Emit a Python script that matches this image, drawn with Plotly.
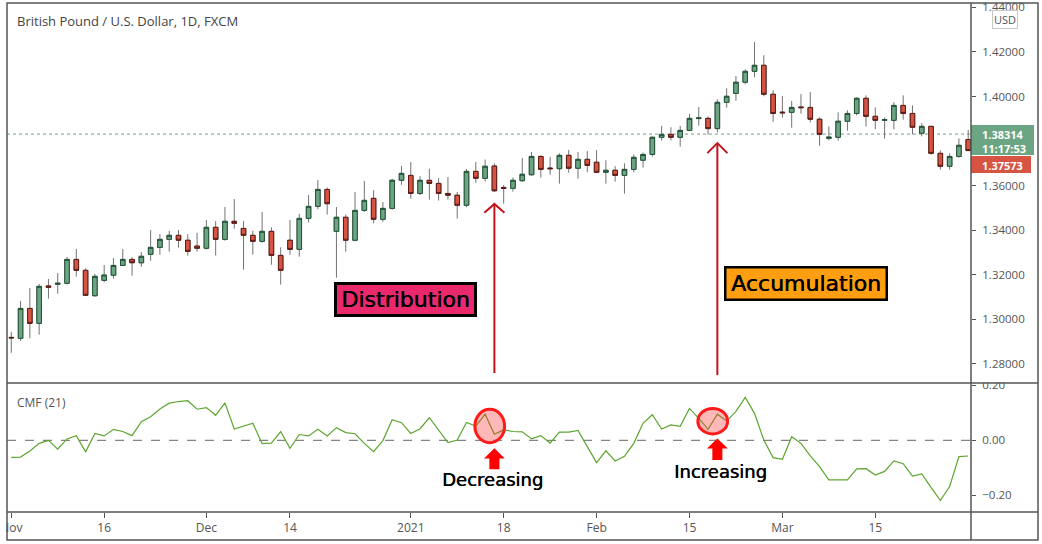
import plotly.graph_objects as go

# ---------------- data ----------------
opens = [1.2919, 1.2915, 1.3049, 1.2982, 1.3150, 1.3157, 1.3162, 1.3269, 1.3220, 1.3106,
         1.3175, 1.3198, 1.3242, 1.3269, 1.3254, 1.3292, 1.3323, 1.3359, 1.3377, 1.3355,
         1.3329, 1.3319, 1.3413, 1.3359, 1.3440, 1.3408, 1.3377, 1.3350, 1.3395, 1.3287,
         1.3355, 1.3314, 1.3453, 1.3507, 1.3583, 1.3395, 1.3458, 1.3355, 1.3489, 1.3543,
         1.3449, 1.3498, 1.3624, 1.3646, 1.3565, 1.3624, 1.3610, 1.3565, 1.3557, 1.3512,
         1.3664, 1.3633, 1.3688, 1.3592, 1.3588, 1.3622, 1.3649, 1.3731, 1.3679, 1.3676,
         1.3736, 1.3678, 1.3718, 1.3705, 1.3660, 1.3669, 1.3646, 1.3673, 1.3714, 1.3740,
         1.3817, 1.3830, 1.3817, 1.3848, 1.3901, 1.3902, 1.3856, 1.3974, 1.4014, 1.4064,
         1.4113, 1.4140, 1.4010, 1.3930, 1.3929, 1.3953, 1.3951, 1.3898, 1.3812, 1.3817,
         1.3889, 1.3924, 1.3992, 1.3911, 1.3893, 1.3893, 1.3960, 1.3924, 1.3835, 1.3866,
         1.3745, 1.3687, 1.3731, 1.3807]
highs = [1.2943, 1.3082, 1.3141, 1.3159, 1.3181, 1.3208, 1.3280, 1.3316, 1.3229, 1.3204,
         1.3244, 1.3275, 1.3316, 1.3280, 1.3302, 1.3401, 1.3383, 1.3397, 1.3401, 1.3382,
         1.3388, 1.3446, 1.3441, 1.3504, 1.3540, 1.3441, 1.3397, 1.3482, 1.3413, 1.3323,
         1.3446, 1.3473, 1.3558, 1.3625, 1.3592, 1.3504, 1.3471, 1.3571, 1.3621, 1.3580,
         1.3527, 1.3631, 1.3688, 1.3706, 1.3643, 1.3676, 1.3634, 1.3639, 1.3571, 1.3675,
         1.3706, 1.3717, 1.3700, 1.3603, 1.3637, 1.3724, 1.3751, 1.3736, 1.3729, 1.3745,
         1.3760, 1.3751, 1.3755, 1.3760, 1.3714, 1.3687, 1.3700, 1.3740, 1.3749, 1.3821,
         1.3868, 1.3862, 1.3868, 1.3922, 1.3953, 1.3911, 1.3987, 1.4037, 1.4092, 1.4122,
         1.4245, 1.4185, 1.4028, 1.4002, 1.3980, 1.4011, 1.4020, 1.3906, 1.3866, 1.3929,
         1.3938, 1.3996, 1.4005, 1.3951, 1.3906, 1.3975, 1.4005, 1.3960, 1.3880, 1.3868,
         1.3758, 1.3745, 1.3812, 1.3850]
lows = [1.2850, 1.2904, 1.2915, 1.2931, 1.3093, 1.3115, 1.3156, 1.3192, 1.3104, 1.3102,
        1.3166, 1.3183, 1.3239, 1.3196, 1.3236, 1.3263, 1.3290, 1.3304, 1.3322, 1.3286,
        1.3304, 1.3313, 1.3286, 1.3353, 1.3407, 1.3223, 1.3290, 1.3344, 1.3245, 1.3156,
        1.3290, 1.3281, 1.3435, 1.3494, 1.3470, 1.3187, 1.3304, 1.3350, 1.3482, 1.3431,
        1.3438, 1.3492, 1.3604, 1.3542, 1.3557, 1.3537, 1.3533, 1.3537, 1.3452, 1.3503,
        1.3613, 1.3619, 1.3571, 1.3519, 1.3573, 1.3619, 1.3645, 1.3636, 1.3649, 1.3609,
        1.3658, 1.3631, 1.3660, 1.3657, 1.3609, 1.3618, 1.3564, 1.3660, 1.3681, 1.3730,
        1.3802, 1.3803, 1.3775, 1.3845, 1.3869, 1.3829, 1.3839, 1.3950, 1.3981, 1.4055,
        1.4086, 1.4001, 1.3887, 1.3905, 1.3860, 1.3923, 1.3884, 1.3779, 1.3803, 1.3802,
        1.3847, 1.3915, 1.3865, 1.3853, 1.3811, 1.3853, 1.3896, 1.3830, 1.3821, 1.3739,
        1.3672, 1.3672, 1.3725, 1.3757]
closes = [1.2917, 1.3049, 1.2982, 1.3148, 1.3144, 1.3162, 1.3269, 1.3220, 1.3108, 1.3193,
          1.3199, 1.3242, 1.3269, 1.3254, 1.3283, 1.3323, 1.3359, 1.3377, 1.3355, 1.3305,
          1.3319, 1.3413, 1.3359, 1.3440, 1.3431, 1.3377, 1.3350, 1.3395, 1.3287, 1.3220,
          1.3314, 1.3453, 1.3507, 1.3583, 1.3519, 1.3458, 1.3355, 1.3489, 1.3534, 1.3449,
          1.3498, 1.3624, 1.3655, 1.3565, 1.3624, 1.3610, 1.3565, 1.3557, 1.3512, 1.3664,
          1.3633, 1.3687, 1.3577, 1.3588, 1.3624, 1.3651, 1.3731, 1.3673, 1.3676, 1.3736,
          1.3678, 1.3718, 1.3691, 1.3660, 1.3669, 1.3646, 1.3673, 1.3727, 1.3740, 1.3817,
          1.3830, 1.3817, 1.3848, 1.3902, 1.3904, 1.3856, 1.3974, 1.4001, 1.4064, 1.4113,
          1.4140, 1.4010, 1.3924, 1.3927, 1.3951, 1.3950, 1.3898, 1.3830, 1.3818, 1.3889,
          1.3924, 1.3992, 1.3911, 1.3893, 1.3896, 1.3960, 1.3924, 1.3862, 1.3866, 1.3745,
          1.3687, 1.3731, 1.3781, 1.37573]
cmf_values = [-0.062, -0.061, -0.039, -0.011, 0.000, -0.032, 0.005, 0.017, -0.042, 0.025,
              0.016, 0.040, 0.032, 0.017, 0.068, 0.086, 0.114, 0.135, 0.141, 0.144,
              0.113, 0.119, 0.091, 0.136, 0.041, 0.052, 0.062, -0.012, -0.010, 0.032,
              -0.029, 0.021, 0.016, 0.040, 0.016, 0.046, 0.028, 0.024, -0.011, -0.041,
              -0.001, 0.075, 0.064, 0.025, 0.042, 0.082, 0.038, -0.008, 0.001, 0.065,
              0.052, 0.095, 0.022, 0.038, 0.032, 0.031, 0.005, 0.017, -0.010, 0.030,
              0.030, 0.036, -0.023, -0.081, -0.038, -0.075, -0.058, -0.011, 0.062, 0.093,
              0.041, 0.056, 0.051, 0.116, 0.080, 0.040, 0.095, 0.070, 0.105, 0.156,
              0.098, 0.001, -0.063, -0.069, 0.013, -0.011, -0.057, -0.096, -0.144, -0.144,
              -0.144, -0.104, -0.103, -0.126, -0.113, -0.075, -0.085, -0.130, -0.122, -0.171,
              -0.219, -0.168, -0.059, -0.057]

date_tick_bars = [0, 10, 21, 30, 43, 53, 63, 73, 83, 93]
date_tick_labels = ["Nov", "16", "Dec", "14", "2021", "18", "Feb", "15", "Mar", "15"]
price_ticks = [1.28, 1.30, 1.32, 1.34, 1.36, 1.38, 1.40, 1.42, 1.44]
cmf_ticks = [-0.20, 0.00, 0.20]
cmf_tick_labels = ["\u22120.20", "0.00", "0.20"]
last_price = 1.38314
last_close_label = "1.37573"
countdown = "11:17:53"
title_text = "British Pound / U.S. Dollar, 1D, FXCM"
indicator_label = "CMF (21)"
distribution_bar = 52
accumulation_bar = 76

bars = list(range(len(opens)))
body_hi = [max(o, c) for o, c in zip(opens, closes)]
body_lo = [min(o, c) for o, c in zip(opens, closes)]

# ---------------- styling / layout ----------------
W, H = 1042, 544
ML, MR, MT, MB = 7, 71, 3, 32
PW, PH = W - ML - MR, H - MT - MB


def px(x):
    return (x - ML) / PW


def py(y):
    return (H - MB - y) / PH


split = py(383)
UP, UP_B = "#6BA583", "#225437"
DN, DN_B = "#D75442", "#5B1A13"
WICK = "#737375"
AX = "#555555"
FONT = "Open Sans"
BIG = "DejaVu Sans"
BOLDEN = "0.5px 0 0 black"

fig = go.Figure()
# wicks
fig.add_trace(go.Candlestick(
    x=bars, open=opens, high=highs, low=lows, close=closes,
    increasing=dict(line=dict(color=WICK, width=1), fillcolor=WICK),
    decreasing=dict(line=dict(color=WICK, width=1), fillcolor=WICK),
    whiskerwidth=0, hoverinfo="skip", showlegend=False, xaxis="x", yaxis="y"))
# bodies
fig.add_trace(go.Candlestick(
    x=bars, open=opens, high=body_hi, low=body_lo, close=closes,
    increasing=dict(line=dict(color=UP_B, width=1), fillcolor=UP),
    decreasing=dict(line=dict(color=DN_B, width=1), fillcolor=DN),
    whiskerwidth=0, showlegend=False, xaxis="x", yaxis="y"))
# CMF
fig.add_trace(go.Scatter(x=bars, y=cmf_values, mode="lines",
                         line=dict(color="#5DA52F", width=1.2),
                         showlegend=False, xaxis="x2", yaxis="y2"))

shapes = []
# dotted last-price line
shapes.append(dict(type="line", xref="paper", yref="y", x0=0, x1=1, y0=last_price, y1=last_price,
                   line=dict(color=UP, width=1, dash="dot"), layer="below"))
# zero dashed line in CMF
shapes.append(dict(type="line", xref="paper", yref="y2", x0=0, x1=1, y0=0, y1=0,
                   line=dict(color="#666666", width=1, dash="dash"), layer="below"))

# red vertical arrows in price panel
ARROW = "#C1151C"
for bar, y_tip, y_bot, dy in [(distribution_bar, 1.3518, 1.2759, 0.0040),
                              (accumulation_bar, 1.3791, 1.2750, 0.0045)]:
    shapes.append(dict(type="line", xref="x", yref="y", x0=bar, x1=bar, y0=y_bot, y1=y_tip,
                       line=dict(color=ARROW, width=2)))
    shapes.append(dict(type="path", xref="x", yref="y",
                       path=f"M {bar-1.08},{y_tip-dy} L {bar},{y_tip} L {bar+1.08},{y_tip-dy}",
                       line=dict(color=ARROW, width=2)))

# circles in CMF panel
for x0, x1, y0, y1 in [(49.9, 53.1, -0.009, 0.113), (73.9, 77.1, 0.023, 0.116)]:
    shapes.append(dict(type="circle", xref="x2", yref="y2", x0=x0, x1=x1, y0=y0, y1=y1,
                       fillcolor="rgba(255,40,40,0.33)", line=dict(color="#FF1A1A", width=3)))

# block arrows in CMF panel
for bar, tip, base, bot in [(distribution_bar, -0.029, -0.066, -0.1055),
                            (accumulation_bar, 0.007, -0.030, -0.072)]:
    hw, sw = 1.12, 0.54
    path = (f"M {bar},{tip} L {bar+hw},{base} L {bar+sw},{base} L {bar+sw},{bot} "
            f"L {bar-sw},{bot} L {bar-sw},{base} L {bar-hw},{base} Z")
    shapes.append(dict(type="path", xref="x2", yref="y2", path=path,
                       fillcolor="#FF0000", line=dict(color="#FF0000", width=0)))

# masks that clip axis labels at the frame edges (as in the reference)
MASK = dict(type="rect", xref="paper", yref="paper", fillcolor="white", line=dict(width=0))
shapes.append(dict(MASK, x0=px(0), x1=px(6.3), y0=py(544), y1=py(512)))
shapes.append(dict(MASK, x0=px(0), x1=px(1042), y0=py(2.3), y1=py(0)))
shapes.append(dict(MASK, x0=px(972), x1=px(1037), y0=py(382.4), y1=py(373)))

# price tags
shapes.append(dict(type="rect", xref="paper", yref="paper", x0=px(971), x1=px(1034),
                   y0=py(155), y1=py(125), fillcolor=UP, line=dict(width=0)))
shapes.append(dict(type="rect", xref="paper", yref="paper", x0=px(971), x1=px(1031),
                   y0=py(173), y1=py(156), fillcolor=DN, line=dict(width=0)))

# frame
FR = dict(color=AX, width=1.5)
shapes.append(dict(type="rect", xref="paper", yref="paper", x0=px(7), x1=px(1038),
                   y0=py(540), y1=py(3), line=FR))
shapes.append(dict(type="line", xref="paper", yref="paper", x0=px(7), x1=px(1038),
                   y0=py(383), y1=py(383), line=FR))
shapes.append(dict(type="line", xref="paper", yref="paper", x0=px(7), x1=px(1038),
                   y0=py(512), y1=py(512), line=FR))
shapes.append(dict(type="line", xref="paper", yref="paper", x0=px(971), x1=px(971),
                   y0=py(540), y1=py(3), line=FR))

PAPER_TXT = dict(xref="paper", yref="paper", showarrow=False, xanchor="center", yanchor="middle")
TAG_FONT = dict(family=FONT, size=11, color="white")
annotations = [
    dict(PAPER_TXT, text=title_text, x=px(15), y=py(21), xanchor="left",
         font=dict(family=FONT, size=13, color="#444444")),
    dict(PAPER_TXT, text=indicator_label, x=px(15), y=py(402), xanchor="left",
         font=dict(family=FONT, size=12, color="#555555")),
    dict(PAPER_TXT, text="USD", x=px(1005), y=py(19.5),
         font=dict(family=FONT, size=11, color="#555555"), bordercolor="#C8C8C8",
         borderwidth=1, borderpad=1),
    dict(PAPER_TXT, text="<b>%.5f</b>" % last_price, x=px(1002.5), y=py(134.5),
         font=TAG_FONT, height=12),
    dict(PAPER_TXT, text="<b>%s</b>" % countdown, x=px(1003.5), y=py(147.5),
         font=TAG_FONT, height=12),
    dict(PAPER_TXT, text="<b>%s</b>" % last_close_label, x=px(1002.5), y=py(164.5),
         font=TAG_FONT, height=12),
    dict(text="Distribution", xref="x", yref="y", x=42.4, y=1.3089, showarrow=False,
         font=dict(family=BIG, size=22, color="black", shadow=BOLDEN), bgcolor="#E9296C",
         bordercolor="black", borderwidth=3, borderpad=0, width=137, height=29),
    dict(text="Accumulation", xref="x", yref="y", x=85.55, y=1.3159, showarrow=False,
         font=dict(family=BIG, size=22, color="black", shadow=BOLDEN), bgcolor="#FF9E10",
         bordercolor="black", borderwidth=2.5, borderpad=0, width=159, height=30),
    dict(text="Decreasing", xref="x2", yref="y2", x=51.85, y=-0.144, showarrow=False,
         font=dict(family=BIG, size=18, color="black", shadow=BOLDEN)),
    dict(text="Increasing", xref="x2", yref="y2", x=76.3, y=-0.112, showarrow=False,
         font=dict(family=BIG, size=18, color="black", shadow=BOLDEN)),
]

xr = [-0.46, 103.3]
fig.update_layout(
    width=W, height=H, margin=dict(l=ML, r=MR, t=MT, b=MB, autoexpand=False),
    paper_bgcolor="white", plot_bgcolor="white", showlegend=False,
    font=dict(family=FONT, size=12, color=AX),
    boxgap=0.3,
    xaxis=dict(domain=[0, 1], anchor="y", range=xr, showticklabels=False, ticks="",
               automargin=False, showgrid=False, zeroline=False,
               rangeslider=dict(visible=False)),
    xaxis2=dict(domain=[0, 1], anchor="y2", range=xr, matches="x", tickmode="array",
                tickvals=date_tick_bars, ticktext=date_tick_labels, ticks="outside", ticklen=5,
                tickcolor=AX, tickfont=dict(family=FONT, size=12, color=AX),
                ticklabeloverflow="allow",
                automargin=False, showgrid=False, zeroline=False),
    yaxis=dict(domain=[split, 1], anchor="x", side="right", range=[1.27144, 1.44196],
               tickmode="array", tickvals=price_ticks, ticktext=["%.5f" % v for v in price_ticks],
               ticks="outside", ticklen=4, tickcolor=AX, ticklabelstandoff=4,
               tickfont=dict(family=FONT, size=11.5, color=AX), ticklabeloverflow="allow",
               automargin=False, showgrid=False, zeroline=False),
    yaxis2=dict(domain=[0, split], anchor="x2", side="right", range=[-0.2607, 0.2084],
                tickmode="array", tickvals=cmf_ticks, ticktext=cmf_tick_labels,
                ticks="outside", ticklen=4, tickcolor=AX, ticklabelstandoff=4,
                tickfont=dict(family=FONT, size=11.5, color=AX), ticklabeloverflow="allow",
                automargin=False, showgrid=False, zeroline=False),
    shapes=shapes, annotations=annotations,
)

fig.write_html("out.html")
